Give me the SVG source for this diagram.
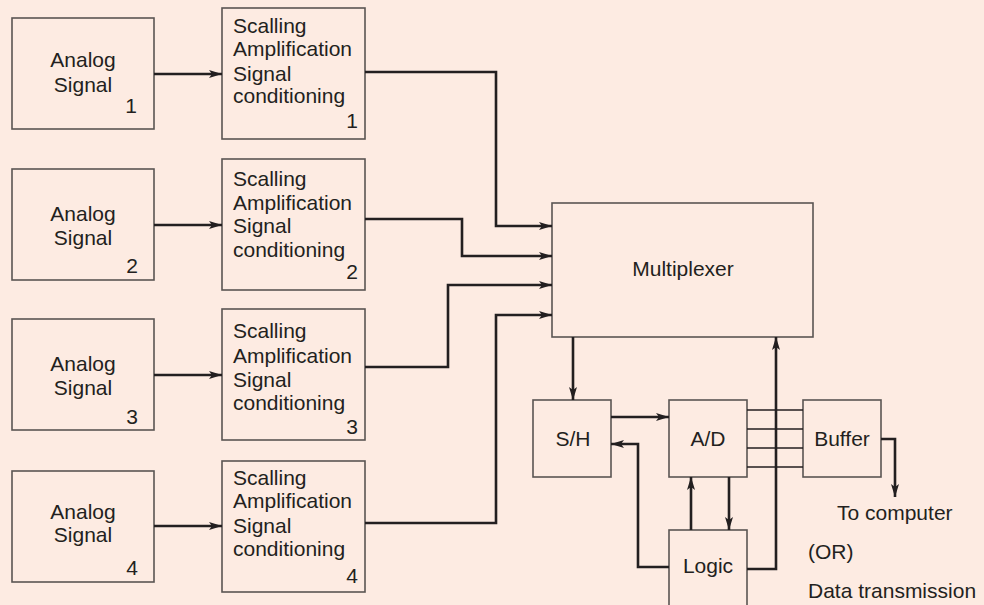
<svg xmlns="http://www.w3.org/2000/svg" width="984" height="605" viewBox="0 0 984 605">
<defs>
<marker id="ah" markerUnits="userSpaceOnUse" markerWidth="14" markerHeight="9" refX="13" refY="4.5" orient="auto">
<path d="M0,0.5 L13,4.5 L0,8.5 L3,4.5 z" fill="#231F20"/>
</marker>
</defs>
<style>
.box{fill:none;stroke:#5a5553;stroke-width:1.6}
.t{font-family:"Liberation Sans",Arial,sans-serif;font-size:21px;fill:#231F20}
.c{text-anchor:middle}
.e{text-anchor:end}
.w{fill:none;stroke:#231F20;stroke-width:2.6}
.a{marker-end:url(#ah)}
.bus{fill:none;stroke:#231F20;stroke-width:1.3}
</style>
<rect x="0" y="0" width="984" height="605" fill="#FDEBE2"/>

<g id="analog1">
<rect class="box" x="12" y="18" width="142" height="111"/>
<text class="t c" x="83" y="67">Analog</text>
<text class="t c" x="83" y="92">Signal</text>
<text class="t e" x="137" y="113">1</text>
</g>
<g id="analog2">
<rect class="box" x="12" y="169" width="142" height="111"/>
<text class="t c" x="83" y="221">Analog</text>
<text class="t c" x="83" y="245">Signal</text>
<text class="t e" x="138" y="273">2</text>
</g>
<g id="analog3">
<rect class="box" x="12" y="319" width="142" height="111"/>
<text class="t c" x="83" y="371">Analog</text>
<text class="t c" x="83" y="395">Signal</text>
<text class="t e" x="138" y="424">3</text>
</g>
<g id="analog4">
<rect class="box" x="12" y="471" width="142" height="111"/>
<text class="t c" x="83" y="519">Analog</text>
<text class="t c" x="83" y="542">Signal</text>
<text class="t e" x="138" y="575">4</text>
</g>

<g id="scaling1">
<rect class="box" x="222" y="8" width="143" height="131"/>
<text class="t" x="233" y="33">Scalling</text>
<text class="t" x="233" y="56">Amplification</text>
<text class="t" x="233" y="81">Signal</text>
<text class="t" x="233" y="103">conditioning</text>
<text class="t e" x="358" y="128">1</text>
</g>
<g id="scaling2">
<rect class="box" x="222" y="159" width="143" height="131"/>
<text class="t" x="233" y="186">Scalling</text>
<text class="t" x="233" y="210">Amplification</text>
<text class="t" x="233" y="233">Signal</text>
<text class="t" x="233" y="257">conditioning</text>
<text class="t e" x="358" y="279">2</text>
</g>
<g id="scaling3">
<rect class="box" x="222" y="309" width="143" height="131"/>
<text class="t" x="233" y="338">Scalling</text>
<text class="t" x="233" y="363">Amplification</text>
<text class="t" x="233" y="387">Signal</text>
<text class="t" x="233" y="410">conditioning</text>
<text class="t e" x="358" y="434">3</text>
</g>
<g id="scaling4">
<rect class="box" x="222" y="461" width="143" height="131"/>
<text class="t" x="233" y="485">Scalling</text>
<text class="t" x="233" y="508">Amplification</text>
<text class="t" x="233" y="533">Signal</text>
<text class="t" x="233" y="556">conditioning</text>
<text class="t e" x="358" y="583">4</text>
</g>

<g id="multiplexer">
<rect class="box" x="552" y="203" width="261" height="134"/>
<text class="t c" x="683" y="276">Multiplexer</text>
</g>
<g id="sh">
<rect class="box" x="533" y="400" width="78" height="77"/>
<text class="t c" x="573" y="446">S/H</text>
</g>
<g id="ad">
<rect class="box" x="669" y="400" width="78" height="77"/>
<text class="t c" x="708" y="446">A/D</text>
</g>
<g id="logic">
<rect class="box" x="669" y="530" width="78" height="80"/>
<text class="t c" x="708" y="573">Logic</text>
</g>
<g id="buffer">
<rect class="box" x="803" y="400" width="78" height="77"/>
<text class="t c" x="842" y="446">Buffer</text>
</g>
<g id="output-labels">
<text class="t" x="837" y="520">To computer</text>
<text class="t" x="808" y="559">(OR)</text>
<text class="t" x="808" y="598">Data transmission</text>
</g>

<g id="connectors">
<path class="w a" d="M154,74 H222"/>
<path class="w a" d="M154,225 H222"/>
<path class="w a" d="M154,375 H222"/>
<path class="w a" d="M154,526 H222"/>
<path class="w a" d="M365,72 H496 V226 H552"/>
<path class="w a" d="M365,219 H462 V256 H552"/>
<path class="w a" d="M365,367 H448 V285 H552"/>
<path class="w a" d="M365,523 H496 V315 H552"/>
<path class="w a" d="M573,337 V400"/>
<path class="w a" d="M611,417 H669"/>
<path class="w a" d="M669,567 H638 V444 H611"/>
<path class="w a" d="M691,530 V477"/>
<path class="w a" d="M729,477 V530"/>
<path class="w a" d="M747,569 H776 V337"/>
<path class="bus" d="M747,410 H803 M747,429 H803 M747,448 H803 M747,467 H803"/>
<path class="w a" d="M881,439 H895 V497"/>
</g>
</svg>
